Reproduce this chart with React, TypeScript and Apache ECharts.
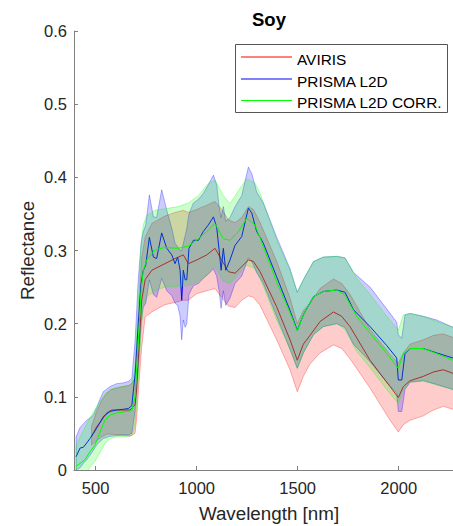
import React, { useEffect, useRef } from "react";
import * as echarts from "echarts";

// ---------- AVIRIS ----------
const wlA = [480, 505, 530, 555, 580, 620, 670, 695, 703, 715, 728, 745, 778, 843, 893, 934, 959, 1000, 1050, 1091, 1124, 1157, 1190, 1223, 1256, 1281, 1314, 1396, 1462, 1498, 1528, 1561, 1611, 1677, 1718, 1759, 1858, 1957, 1998, 2023, 2056, 2122, 2172, 2221, 2269, 2323];
const meanA = [0.046, 0.059, 0.068, 0.078, 0.082, 0.082, 0.082, 0.089, 0.11, 0.17, 0.232, 0.26, 0.273, 0.282, 0.289, 0.294, 0.282, 0.287, 0.294, 0.303, 0.287, 0.271, 0.269, 0.278, 0.287, 0.285, 0.271, 0.223, 0.178, 0.15, 0.172, 0.184, 0.203, 0.216, 0.21, 0.196, 0.15, 0.114, 0.099, 0.114, 0.122, 0.128, 0.134, 0.137, 0.132, 0.128];
const loA = [0.034, 0.04, 0.045, 0.049, 0.049, 0.048, 0.046, 0.05, 0.07, 0.12, 0.168, 0.209, 0.216, 0.226, 0.229, 0.232, 0.232, 0.241, 0.245, 0.248, 0.236, 0.224, 0.222, 0.232, 0.238, 0.236, 0.225, 0.178, 0.137, 0.107, 0.128, 0.145, 0.16, 0.171, 0.166, 0.152, 0.112, 0.068, 0.052, 0.062, 0.068, 0.074, 0.082, 0.087, 0.083, 0.08];
const hiA = [0.06, 0.08, 0.095, 0.105, 0.11, 0.113, 0.116, 0.125, 0.16, 0.225, 0.29, 0.318, 0.337, 0.347, 0.352, 0.355, 0.352, 0.356, 0.362, 0.367, 0.356, 0.342, 0.338, 0.345, 0.36, 0.356, 0.338, 0.285, 0.235, 0.2, 0.218, 0.228, 0.248, 0.261, 0.255, 0.24, 0.192, 0.158, 0.146, 0.16, 0.172, 0.178, 0.184, 0.186, 0.181, 0.176];

// ---------- PRISMA L2D ----------
const wlB = [403, 423, 439, 456, 472, 489, 505, 522, 538, 571, 604, 637, 662, 679, 695, 711, 725, 735, 748, 766, 786, 802, 827, 852, 877, 893, 906, 918, 926, 934, 943, 951, 962, 984, 1009, 1033, 1058, 1083, 1099, 1111, 1121, 1132, 1144, 1165, 1190, 1223, 1256, 1273, 1297, 1314, 1330, 1396, 1462, 1498, 1528, 1578, 1627, 1693, 1734, 1776, 1858, 1941, 1990, 1998, 2015, 2031, 2056, 2122, 2188, 2269, 2323];
const meanB = [0.018, 0.03, 0.031, 0.037, 0.043, 0.05, 0.057, 0.065, 0.073, 0.08, 0.082, 0.083, 0.084, 0.088, 0.13, 0.2, 0.255, 0.272, 0.28, 0.318, 0.291, 0.289, 0.324, 0.303, 0.294, 0.282, 0.291, 0.273, 0.232, 0.273, 0.26, 0.26, 0.303, 0.314, 0.314, 0.326, 0.335, 0.346, 0.332, 0.301, 0.273, 0.303, 0.273, 0.287, 0.307, 0.319, 0.358, 0.351, 0.326, 0.318, 0.31, 0.264, 0.218, 0.191, 0.212, 0.237, 0.244, 0.246, 0.243, 0.219, 0.196, 0.17, 0.153, 0.123, 0.123, 0.159, 0.166, 0.166, 0.16, 0.153, 0.148];
const loB = [0.0, 0.003, 0.009, 0.014, 0.02, 0.027, 0.034, 0.039, 0.043, 0.046, 0.047, 0.048, 0.048, 0.05, 0.08, 0.14, 0.2, 0.222, 0.228, 0.26, 0.24, 0.236, 0.262, 0.245, 0.238, 0.228, 0.225, 0.21, 0.178, 0.205, 0.195, 0.2, 0.24, 0.252, 0.255, 0.262, 0.268, 0.275, 0.265, 0.245, 0.221, 0.245, 0.225, 0.235, 0.255, 0.265, 0.29, 0.285, 0.27, 0.262, 0.255, 0.21, 0.165, 0.139, 0.16, 0.185, 0.196, 0.2, 0.195, 0.172, 0.148, 0.12, 0.105, 0.08, 0.08, 0.11, 0.12, 0.122, 0.117, 0.11, 0.106];
const hiB = [0.045, 0.058, 0.063, 0.068, 0.071, 0.075, 0.085, 0.097, 0.107, 0.114, 0.118, 0.119, 0.121, 0.125, 0.175, 0.26, 0.31, 0.325, 0.335, 0.376, 0.346, 0.345, 0.383, 0.355, 0.33, 0.31, 0.305, 0.3, 0.3, 0.31, 0.32, 0.33, 0.35, 0.365, 0.37, 0.378, 0.39, 0.403, 0.39, 0.36, 0.345, 0.36, 0.34, 0.345, 0.36, 0.375, 0.414, 0.405, 0.38, 0.372, 0.365, 0.318, 0.275, 0.243, 0.26, 0.285, 0.291, 0.292, 0.29, 0.27, 0.25, 0.22, 0.202, 0.185, 0.18, 0.212, 0.214, 0.21, 0.205, 0.195, 0.19];

// ---------- PRISMA L2D CORR. ----------
const wlG = [403, 423, 447, 472, 497, 522, 546, 571, 604, 654, 679, 695, 710, 725, 736, 753, 794, 843, 909, 959, 1009, 1058, 1091, 1132, 1165, 1207, 1248, 1289, 1314, 1396, 1462, 1498, 1528, 1578, 1627, 1693, 1734, 1792, 1858, 1941, 1998, 2023, 2056, 2122, 2188, 2269, 2323];
const meanG = [0.005, 0.009, 0.014, 0.025, 0.034, 0.052, 0.068, 0.075, 0.078, 0.08, 0.081, 0.1, 0.17, 0.245, 0.273, 0.287, 0.301, 0.304, 0.303, 0.306, 0.316, 0.328, 0.337, 0.316, 0.314, 0.326, 0.344, 0.335, 0.317, 0.257, 0.215, 0.19, 0.212, 0.237, 0.244, 0.246, 0.239, 0.21, 0.187, 0.159, 0.139, 0.159, 0.166, 0.166, 0.159, 0.15, 0.146];
const loG = [-0.02, -0.015, -0.01, 0.004, 0.012, 0.024, 0.036, 0.043, 0.045, 0.046, 0.047, 0.06, 0.12, 0.19, 0.225, 0.237, 0.245, 0.25, 0.251, 0.252, 0.258, 0.268, 0.278, 0.258, 0.255, 0.268, 0.28, 0.275, 0.262, 0.205, 0.165, 0.139, 0.16, 0.185, 0.196, 0.2, 0.192, 0.162, 0.14, 0.11, 0.091, 0.11, 0.12, 0.122, 0.116, 0.11, 0.106];
const hiG = [0.032, 0.045, 0.058, 0.071, 0.083, 0.094, 0.104, 0.11, 0.113, 0.115, 0.117, 0.14, 0.22, 0.31, 0.335, 0.348, 0.355, 0.357, 0.36, 0.365, 0.375, 0.392, 0.396, 0.375, 0.364, 0.382, 0.398, 0.392, 0.378, 0.314, 0.273, 0.243, 0.26, 0.285, 0.291, 0.292, 0.29, 0.262, 0.24, 0.21, 0.191, 0.212, 0.214, 0.21, 0.203, 0.195, 0.19];

const seriesNames = ["AVIRIS", "PRISMA L2D", "PRISMA L2D CORR."];
const seriesColors = ["#ff0000", "#0000ff", "#00ff00"];
const xTicks = [500, 1000, 1500, 2000];

const FONT = "'Liberation Sans', Arial, Helvetica, sans-serif";

function rgba(hex: string, a: number) {
  const r = parseInt(hex.slice(1, 3), 16);
  const g = parseInt(hex.slice(3, 5), 16);
  const b = parseInt(hex.slice(5, 7), 16);
  return `rgba(${r},${g},${b},${a})`;
}

function bandSeries(key: string, wl: number[], lo: number[], hi: number[], color: string, z: number) {
  return {
    name: key + " band",
    type: "custom",
    coordinateSystem: "cartesian2d",
    silent: true,
    clip: true,
    z,
    color,
    encode: { x: 0, y: [1, 2] },
    data: wl.map((w, i) => [w, lo[i], hi[i]]),
    renderItem: (params: any, api: any) => {
      if (params.dataIndex !== 0) return null;
      const pts: number[][] = [];
      for (let i = 0; i < wl.length; i++) pts.push(api.coord([wl[i], hi[i]]));
      for (let i = wl.length - 1; i >= 0; i--) pts.push(api.coord([wl[i], lo[i]]));
      return {
        type: "polygon",
        shape: { points: pts },
        style: { fill: rgba(color, 0.2), stroke: rgba(color, 0.3), lineWidth: 1 },
      };
    },
  };
}

function meanSeries(name: string, wl: number[], mean: number[], color: string, z: number) {
  return {
    name,
    type: "line",
    symbol: "none",
    z,
    color,
    itemStyle: { color, borderWidth: 0 },
    lineStyle: { color, width: 1 },
    data: wl.map((w, i) => [w, mean[i]]),
  };
}

// legend box (drawn as graphic elements)
const LEG_X = 235.5;
const LEG_Y = 44.5;
const LEG_W = 212;
const LEG_H = 68;
const LEG_ROWS = [57, 79, 100.5];

function legendGraphic() {
  const els: any[] = [
    {
      type: "rect",
      z: 100,
      shape: { x: LEG_X, y: LEG_Y, width: LEG_W, height: LEG_H },
      style: { fill: "#ffffff", stroke: "#555555", lineWidth: 1 },
    },
  ];
  seriesNames.forEach((n, i) => {
    els.push({
      type: "line",
      z: 101,
      shape: { x1: 241, y1: LEG_ROWS[i], x2: 292, y2: LEG_ROWS[i] },
      style: { stroke: seriesColors[i], lineWidth: 1 },
    });
    els.push({
      type: "text",
      z: 101,
      x: 297,
      y: LEG_ROWS[i] + 2,
      style: {
        text: n,
        fill: "#000000",
        fontSize: 15.4,
        fontFamily: FONT,
        align: "left",
        verticalAlign: "middle",
      },
    });
  });
  return els;
}

export default function App() {
  const ref = useRef<HTMLDivElement>(null);
  useEffect(() => {
    if (!ref.current) return;
    const chart = echarts.init(ref.current, null, { renderer: "svg" });
    const option: any = {
      animation: false,
      backgroundColor: "#ffffff",
      title: {
        text: "Soy",
        left: 252,
        top: 10,
        padding: 0,
        textStyle: { fontFamily: FONT, fontSize: 18.5, fontWeight: "bold", color: "#000" },
      },
      graphic: { elements: legendGraphic() },
      grid: { left: 74, right: -11, top: 31, bottom: 56, containLabel: false, outerBoundsMode: "none" },
      xAxis: {
        type: "value",
        min: 393,
        max: 2323,
        splitNumber: 4,
        minInterval: 500,
        maxInterval: 500,
        name: "Wavelength [nm]",
        nameLocation: "middle",
        nameGap: 34,
        nameMoveOverlap: false,
        nameTextStyle: { fontFamily: FONT, fontSize: 18.8, color: "#262626" },
        axisLine: { show: true, onZero: false, lineStyle: { color: "#808080", width: 1 } },
        axisTick: { show: true, inside: true, length: 4, lineStyle: { color: "#808080" } },
        axisLabel: {
          showMinLabel: false,
          showMaxLabel: false,
          margin: 9,
          fontFamily: FONT,
          fontSize: 16.5,
          color: "#262626",
          formatter: (v: number) => (xTicks.indexOf(v) >= 0 ? String(v) : ""),
        },
        splitLine: { show: false },
      },
      yAxis: {
        type: "value",
        min: 0,
        max: 0.6,
        interval: 0.1,
        name: "Reflectance",
        nameLocation: "middle",
        nameGap: 37,
        nameMoveOverlap: false,
        nameTextStyle: { fontFamily: FONT, fontSize: 18.8, color: "#262626" },
        axisLine: { show: true, lineStyle: { color: "#808080", width: 1 } },
        axisTick: { show: true, inside: true, length: 4, lineStyle: { color: "#808080" } },
        axisLabel: {
          margin: 7,
          fontFamily: FONT,
          fontSize: 16.5,
          color: "#262626",
          formatter: (v: number) => String(Math.round(v * 10) / 10),
        },
        splitLine: { show: false },
      },
      series: [
        bandSeries("A", wlA, loA, hiA, seriesColors[0], 1),
        meanSeries(seriesNames[0], wlA, meanA, seriesColors[0], 2),
        bandSeries("B", wlB, loB, hiB, seriesColors[1], 3),
        meanSeries(seriesNames[1], wlB, meanB, seriesColors[1], 4),
        bandSeries("G", wlG, loG, hiG, seriesColors[2], 5),
        meanSeries(seriesNames[2], wlG, meanG, seriesColors[2], 6),
      ],
    };
    chart.setOption(option);
    return () => chart.dispose();
  }, []);
  return (
    <div
      ref={ref}
      style={{ position: "absolute", left: 0, top: 0, width: 453, height: 526 }}
    />
  );
}
